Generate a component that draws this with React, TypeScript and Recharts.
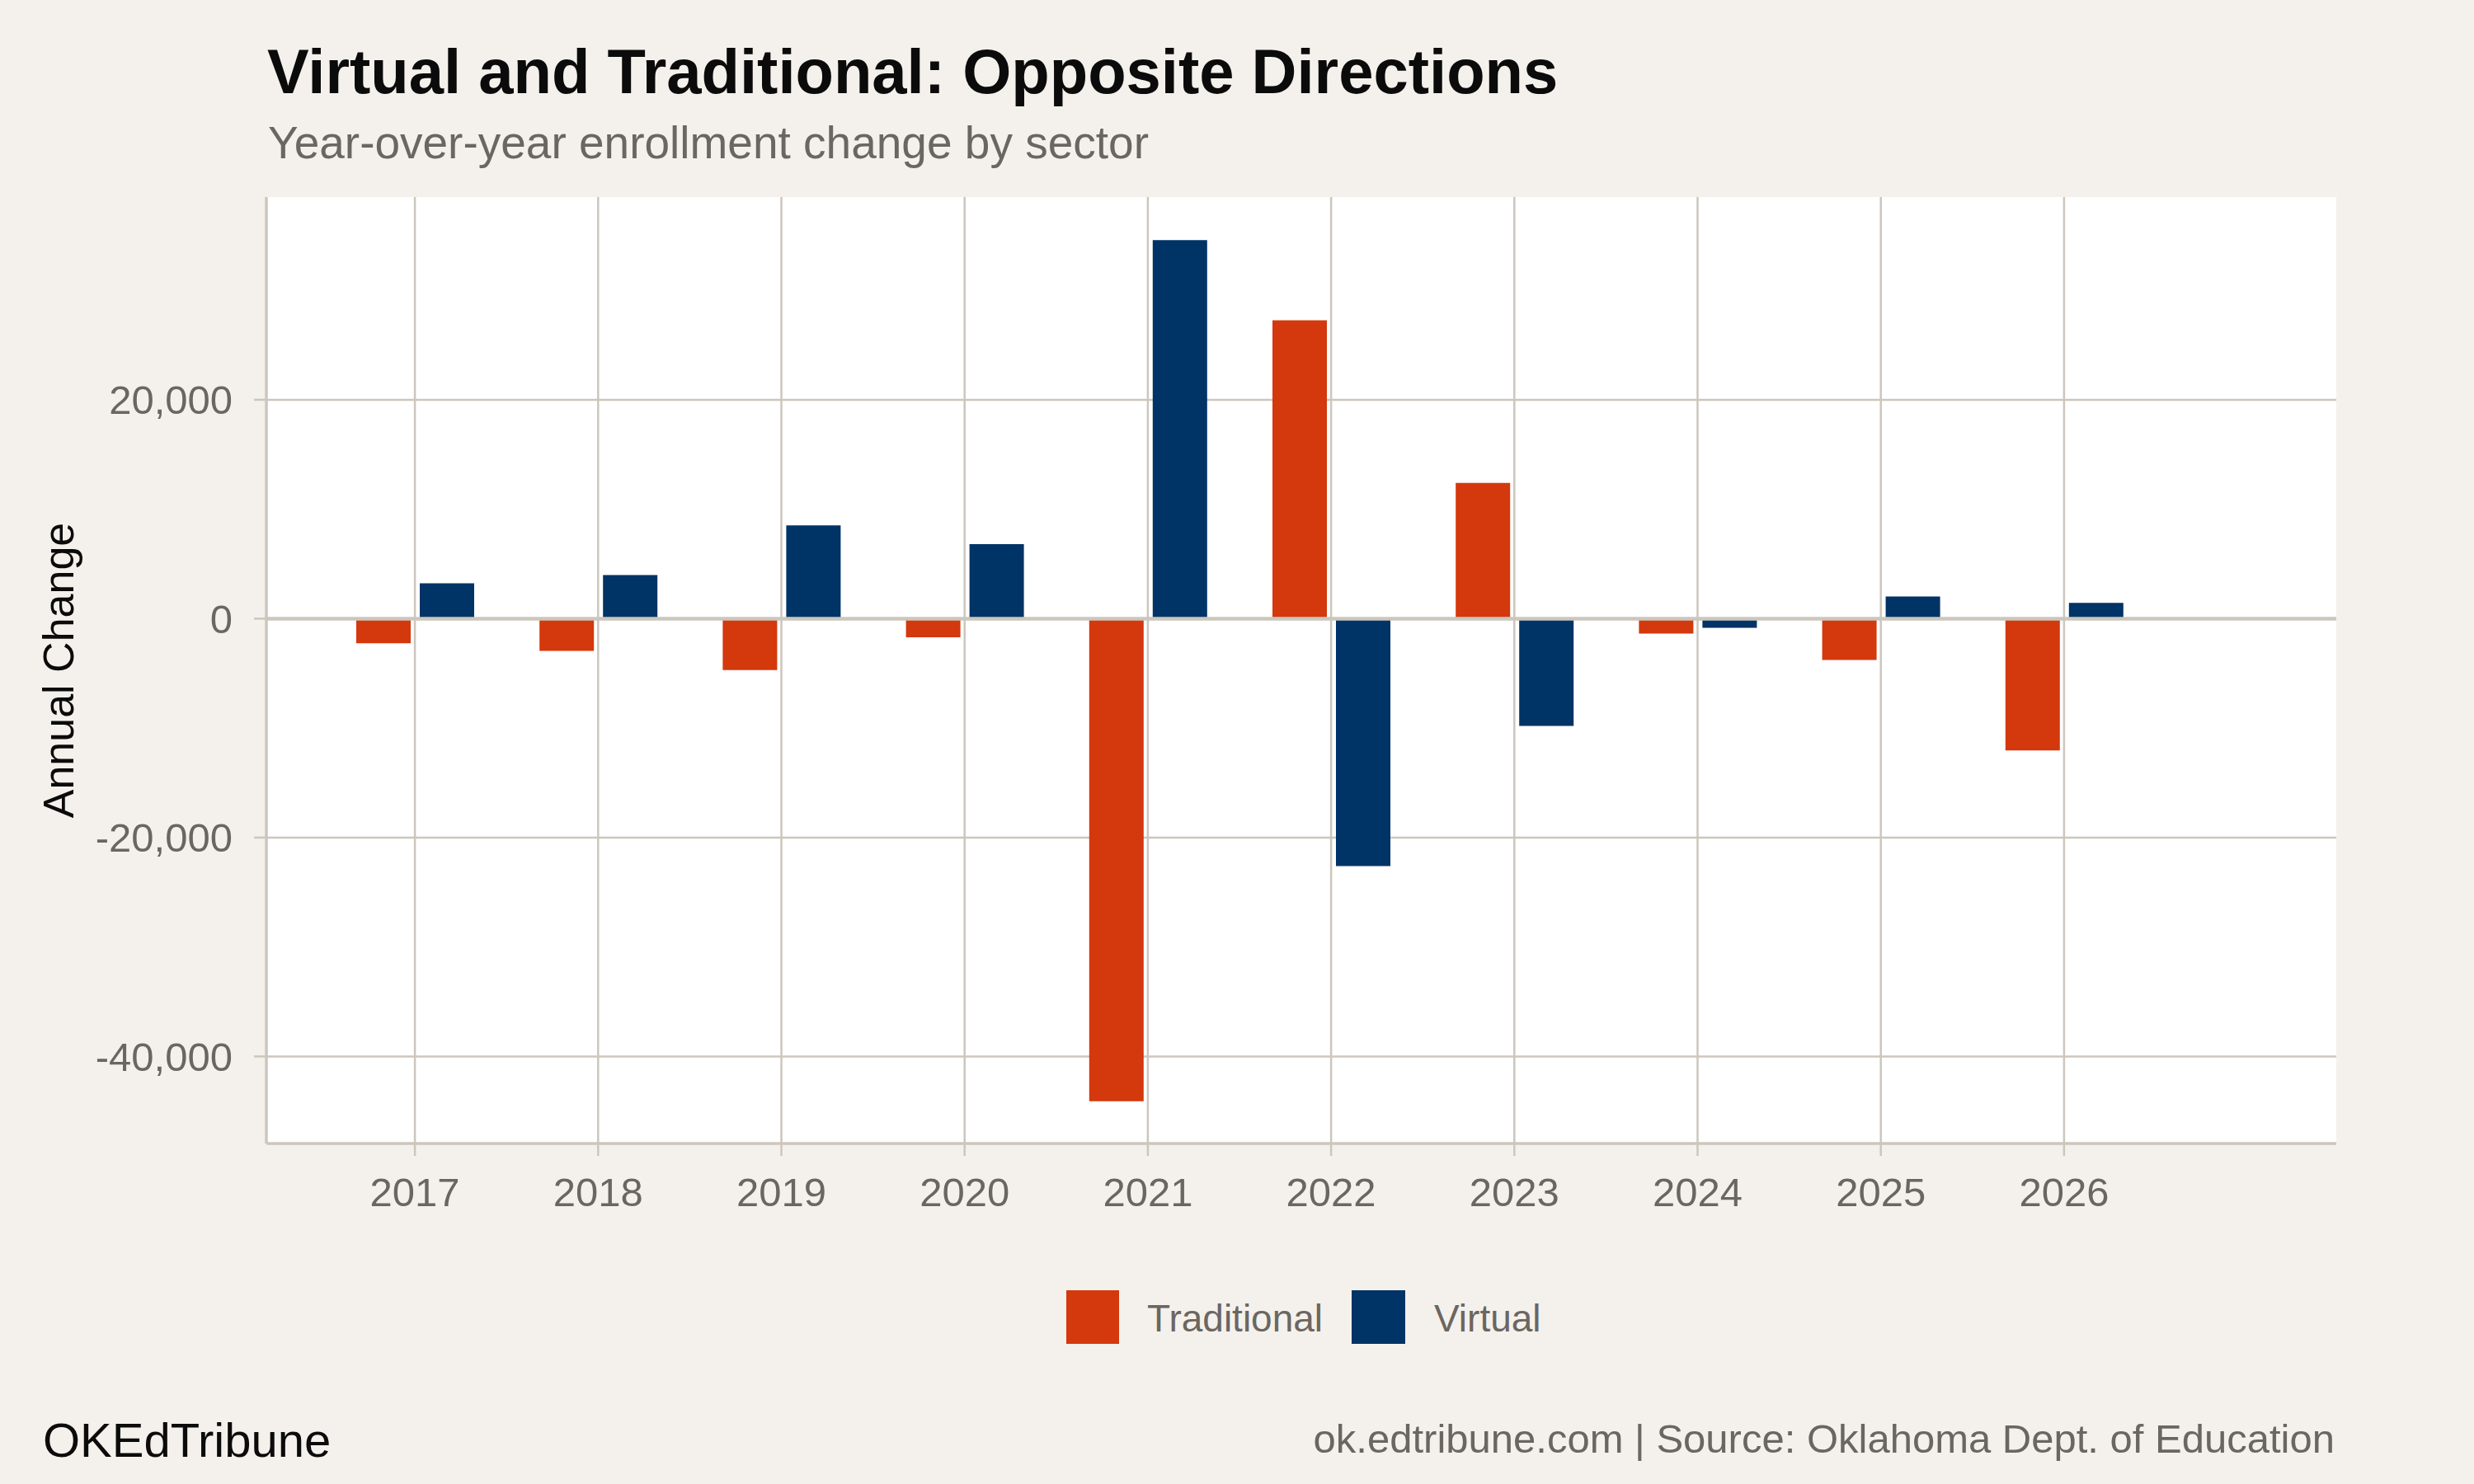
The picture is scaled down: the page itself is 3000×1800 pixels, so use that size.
import { Bar, BarChart, CartesianGrid, ReferenceLine, XAxis, YAxis } from "recharts";

const years = ["2017", "2018", "2019", "2020", "2021", "2022", "2023", "2024", "2025", "2026"];
const traditional = [-2250, -2940, -4700, -1700, -44100, 27270, 12400, -1360, -3770, -12050];
const virtualSchools = [3240, 3990, 8530, 6810, 34580, -22600, -9800, -830, 2030, 1450];
const yTicks = [-40000, -20000, 0, 20000];
const yDomain: [number, number] = [-47955, 38524];

const series = [
  { key: "traditional", name: "Traditional", color: "#D4380D" },
  { key: "virtual", name: "Virtual", color: "#003366" },
];

const rows = years.map((year, i) => ({
  year,
  traditional: traditional[i],
  virtual: virtualSchools[i],
}));

const FONT = '"Liberation Sans", Arial, Helvetica, sans-serif';
const BG = "#F4F1EC";
const GRID = "#CCC6BD";
const GREY_TEXT = "#6B6661";
const DARK_TEXT = "#0B0B0B";

const fmt = new Intl.NumberFormat("en-US");

export default function App() {
  return (
    <div style={{ position: "relative", width: 3000, height: 1800, background: BG, fontFamily: FONT }}>
      <style>{"body{margin:0}"}</style>
      <BarChart
        width={3000}
        height={1800}
        data={rows}
        margin={{ top: 239, right: 167, bottom: 313, left: 0 }}
        barSize={66}
        barGap={11}
      >
        <CartesianGrid fill="#FFFFFF" stroke={GRID} strokeWidth={2.5} syncWithTicks />
        <XAxis
          dataKey="year"
          height={100}
          interval={0}
          padding={{ left: 69, right: 219 }}
          axisLine={{ stroke: GRID, strokeWidth: 3.5 }}
          tickLine={{ stroke: GRID, strokeWidth: 2.5 }}
          tickSize={15}
          tickMargin={26}
          tick={{ fill: GREY_TEXT, fontSize: 49, fontFamily: FONT }}
        />
        <YAxis
          width={323}
          type="number"
          domain={yDomain}
          ticks={yTicks}
          interval={0}
          allowDataOverflow
          tickFormatter={(v) => fmt.format(Number(v)).replace("\u2212", "-")}
          axisLine={{ stroke: GRID, strokeWidth: 3.5 }}
          tickLine={{ stroke: GRID, strokeWidth: 2.5 }}
          tickSize={15}
          tickMargin={26}
          tick={{ fill: GREY_TEXT, fontSize: 49, fontFamily: FONT }}
        />
        {series.map((s) => (
          <Bar key={s.key} dataKey={s.key} name={s.name} fill={s.color} isAnimationActive={false} />
        ))}
        <ReferenceLine y={0} stroke={GRID} strokeWidth={4.5} />
      </BarChart>

      <svg
        width={3000}
        height={1800}
        style={{ position: "absolute", left: 0, top: 0, pointerEvents: "none" }}
        fontFamily={FONT}
      >
        <text x={324} y={113} fontSize={76} fontWeight="bold" fill={DARK_TEXT}>
          Virtual and Traditional: Opposite Directions
        </text>
        <text x={325} y={192} fontSize={55} fill={GREY_TEXT}>
          Year-over-year enrollment change by sector
        </text>
        <text x={89} y={813} fontSize={52} fill={DARK_TEXT} textAnchor="middle" transform="rotate(-90, 89, 813)">
          Annual Change
        </text>

        {/* legend */}
        <rect x={1293} y={1565} width={64} height={65} fill={series[0].color} />
        <text x={1391} y={1615} fontSize={46} fill={GREY_TEXT}>
          {series[0].name}
        </text>
        <rect x={1639} y={1565} width={65} height={65} fill={series[1].color} />
        <text x={1739} y={1615} fontSize={46} fill={GREY_TEXT}>
          {series[1].name}
        </text>

        <text x={52} y={1767} fontSize={58} fill={DARK_TEXT}>
          OKEdTribune
        </text>
        <text x={2831} y={1762} fontSize={49} fill={GREY_TEXT} textAnchor="end">
          ok.edtribune.com | Source: Oklahoma Dept. of Education
        </text>
      </svg>
    </div>
  );
}
